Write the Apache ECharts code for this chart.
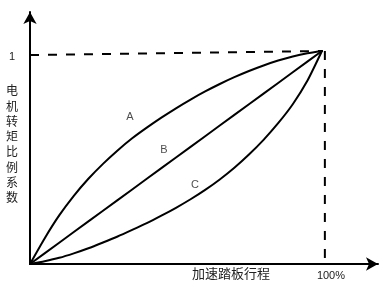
<!DOCTYPE html>
<html>
<head>
<meta charset="utf-8">
<script src="https://cdn.jsdelivr.net/npm/echarts@6/dist/echarts.min.js"></script>
<style>html,body{margin:0;padding:0;background:#fff;}#c{width:389px;height:289px;}</style>
</head>
<body>
<div id="c"></div>
<script>
var xs     = [0, 0.05, 0.1, 0.15, 0.2, 0.25, 0.3, 0.35, 0.4, 0.45, 0.5, 0.55, 0.6, 0.65, 0.7, 0.75, 0.8, 0.85, 0.9, 0.95, 1];
var curveA = [0, 0.12, 0.228, 0.32, 0.40, 0.47, 0.533, 0.59, 0.64, 0.687, 0.731, 0.772, 0.81, 0.845, 0.877, 0.906, 0.932, 0.955, 0.974, 0.989, 1];
var curveB = [0, 0.05, 0.1, 0.15, 0.2, 0.25, 0.3, 0.35, 0.4, 0.45, 0.5, 0.55, 0.6, 0.65, 0.7, 0.75, 0.8, 0.85, 0.9, 0.95, 1];
var curveC = [0, 0.013, 0.029, 0.05, 0.074, 0.101, 0.129, 0.16, 0.192, 0.227, 0.264, 0.304, 0.348, 0.397, 0.452, 0.514, 0.583, 0.661, 0.75, 0.86, 1];
var curveNames = ['A', 'B', 'C'];
var namePos = [[0.342, 0.69], [0.459, 0.535], [0.565, 0.371]];
var hDash = [[0, 0.981], [1, 1]];
var vDash = [[1.01, 1], [1.01, 0]];
var xTickLabel = '100%';
var yTickLabel = '1';
var xTitle = '加速踏板行程';
var yTitle = '电机转矩比例系数';

function pairs(x, y) { return x.map(function (v, i) { return [v, y[i]]; }); }

var chart = echarts.init(document.getElementById('c'), null, {renderer: 'canvas'});
var lineStyle = {color: '#000', width: 2, join: 'round', cap: 'round'};
var option = {
  animation: false,
  grid: {left: 30, right: 11, top: 12, bottom: 25, containLabel: false},
  xAxis: {
    type: 'value', min: 0, max: 1.192, interval: 1,
    splitLine: {show: false}, axisTick: {show: false},
    axisLine: {show: true, onZero: false, symbol: ['none', 'arrow'], symbolSize: [10, 12], lineStyle: {color: '#000', width: 2}},
    axisLabel: {
      margin: 6, fontSize: 11, color: '#222', fontFamily: 'Liberation Sans, Arial',
      padding: [0, 0, 0, 18],
      formatter: function (v) { return v === 1 ? xTickLabel : ''; }
    }
  },
  yAxis: {
    type: 'value', min: 0, max: 1.183, interval: 1,
    splitLine: {show: false}, axisTick: {show: false},
    axisLine: {show: true, onZero: false, symbol: ['none', 'arrow'], symbolSize: [10, 12], lineStyle: {color: '#000', width: 2}},
    axisLabel: {
      margin: 15, fontSize: 11, color: '#222', fontFamily: 'Liberation Sans, Arial',
      verticalAlign: 'top',
      formatter: function (v) { return v === 1 ? yTickLabel : ''; }
    }
  },
  graphic: [
    {type: 'text', left: 192, top: 267, style: {text: xTitle, fill: '#222', font: '13px "Noto Sans CJK SC"'}},
    {type: 'text', left: 6, top: 83, style: {text: yTitle.split('').join('\n'), fill: '#222', font: '12px "Noto Sans CJK SC"', lineHeight: 15.3, align: 'left'}}
  ],
  series: [
    {type: 'line', data: hDash, symbol: 'none', lineStyle: {color: '#000', width: 2, type: [9, 9]}, z: 1},
    {type: 'line', data: vDash, symbol: 'none', lineStyle: {color: '#000', width: 2, type: [9, 9]}, z: 1},
    {type: 'line', data: pairs(xs, curveA), smooth: 0.2, symbol: 'none', lineStyle: lineStyle, z: 2},
    {type: 'line', data: pairs(xs, curveB), symbol: 'none', lineStyle: lineStyle, z: 2},
    {type: 'line', data: pairs(xs, curveC), smooth: 0.2, symbol: 'none', lineStyle: lineStyle, z: 2},
    {type: 'scatter', symbolSize: 0, z: 3,
      data: namePos.map(function (p, i) { return {value: p, name: curveNames[i]}; }),
      label: {show: true, position: 'inside', formatter: '{b}', fontSize: 11, color: '#222', fontFamily: 'Liberation Sans, Arial'}}
  ]
};
chart.setOption(option);
</script>
</body>
</html>
